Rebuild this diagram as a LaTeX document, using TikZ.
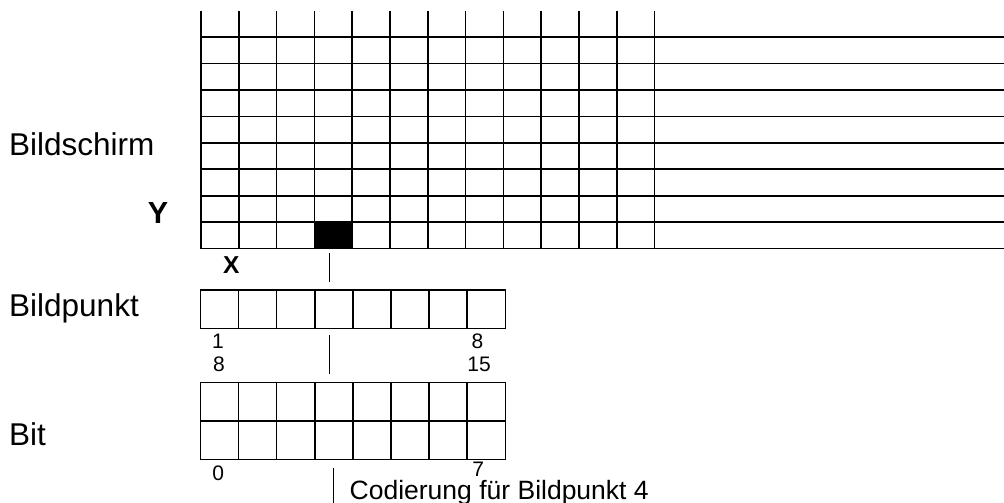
\documentclass[tikz,border=0pt]{standalone}
\usepackage{fontspec}
\setmainfont{Liberation Sans}
\begin{document}
\begin{tikzpicture}[x=1pt,y=-1pt,
  gridline/.style={line width=1.7pt},
  boxline/.style={line width=1.5pt},
  marker/.style={line width=1pt},
  biglabel/.style={inner sep=0pt,anchor=base west,font=\fontsize{31.5}{36}\selectfont},
  smalldigit/.style={inner sep=0pt,anchor=base,font=\fontsize{21}{24}\selectfont},
  axislabel/.style={inner sep=0pt,anchor=base,font=\bfseries}]
\useasboundingbox (0,0) rectangle (1004,503);
% screen grid
\fill (315,222.2) rectangle (352.8,248.6);
\foreach \i in {0,...,12}
  \draw[gridline] ({201+37.8*\i},11) -- ({201+37.8*\i},248.6);
\foreach \j in {0,...,8}
  \draw[gridline] (200.2,{37+26.45*\j}) -- (1004,{37+26.45*\j});
% Bildpunkt row
\foreach \i in {0,...,7}
  \draw[boxline] ({200.5+38.1*\i},290) rectangle ({200.5+38.1*(\i+1)},328.5);
% Bit rows
\foreach \i in {0,...,7}{
  \draw[boxline] ({200.5+38.1*\i},382.5) rectangle ({200.5+38.1*(\i+1)},421);
  \draw[boxline] ({200.5+38.1*\i},421) rectangle ({200.5+38.1*(\i+1)},459.5);
}
% markers
\coordinate (m1a) at (329,253); \coordinate (m1b) at (329,282);
\coordinate (m2a) at (329,335); \coordinate (m2b) at (329,373.5);
\coordinate (m3a) at (333.3,468); \coordinate (m3b) at (333.3,503);
\draw[marker] (m1a) -- (m1b);
\draw[marker] (m2a) -- (m2b);
\draw[marker] (m3a) -- (m3b);
% labels
\node[biglabel] (bildschirm) at (9,155.5) {Bildschirm};
\node[biglabel] (bildpunkt) at (9,316.5) {Bildpunkt};
\node[biglabel] (bit) at (9,445.5) {Bit};
\node[axislabel,font=\bfseries\fontsize{30.5}{36}\selectfont] (ylab) at (158,223.3) {Y};
\node[axislabel,font=\bfseries\fontsize{24.5}{29}\selectfont] (xlab) at (231.3,273) {X};
\node[smalldigit] (d1) at (218,348.3) {1};
\node[smalldigit] (d8a) at (219,371.7) {8};
\node[smalldigit] (d8b) at (477.5,348.3) {8};
\node[smalldigit] (d15) at (479,371.7) {15};
\node[smalldigit] (d0) at (218.3,480) {0};
\node[smalldigit] (d7) at (478.3,476.7) {7};
\node[inner sep=0pt,anchor=base west,font=\fontsize{26.5}{32}\selectfont] (cod) at (349.5,499.5) {Codierung für Bildpunkt 4};
\end{tikzpicture}
\end{document}
